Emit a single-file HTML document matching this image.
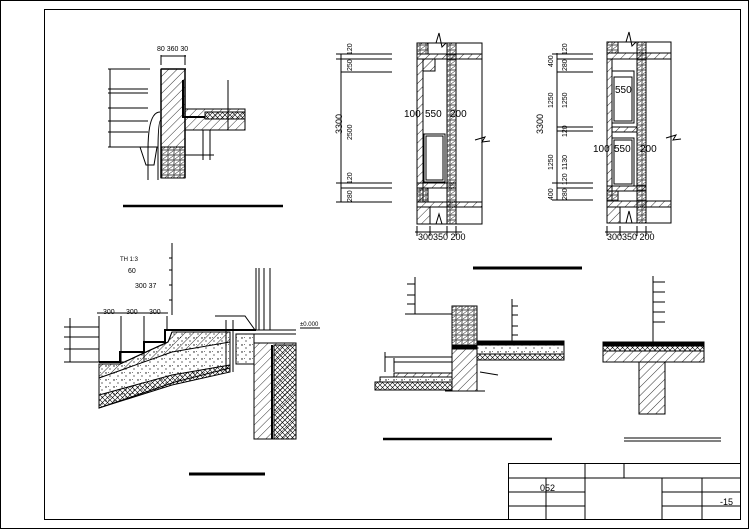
<!DOCTYPE html>
<html><head><meta charset="utf-8"><style>
html,body{margin:0;padding:0;background:#fff;}
svg{display:block;}
text{font-family:"Liberation Sans","Noto Sans CJK SC",sans-serif;fill:#000;}
</style></head><body>
<svg width="749" height="530" viewBox="0 0 749 530" xmlns="http://www.w3.org/2000/svg">
<defs>
<pattern id="h" width="6" height="6" patternUnits="userSpaceOnUse" patternTransform="rotate(45)"><line x1="0" y1="0" x2="0" y2="6" stroke="#000" stroke-width="0.8"/></pattern>
<pattern id="b" width="6" height="5" patternUnits="userSpaceOnUse"><rect x="0" y="0" width="6" height="5" fill="none" stroke="#000" stroke-width="0.7"/><line x1="1" y1="4" x2="5" y2="1" stroke="#000" stroke-width="0.5"/></pattern>
<pattern id="x" width="5" height="5" patternUnits="userSpaceOnUse"><path d="M0 0L5 5M5 0L0 5" stroke="#000" stroke-width="0.6"/></pattern>
<pattern id="d" width="8" height="7" patternUnits="userSpaceOnUse"><circle cx="2" cy="2" r="0.7"/><circle cx="6" cy="5" r="0.6"/><path d="M4 1l1 1" stroke="#000" stroke-width="0.5"/></pattern>
</defs>
<g fill="none" stroke="#000" stroke-width="1">
<rect x="0.5" y="0.5" width="748" height="528"/>
<rect x="44.5" y="9.5" width="696" height="510"/>
<!-- title block -->
<rect x="508.5" y="463.5" width="232" height="56"/>
<path d="M508 478H741M508 492H585M662 492H741M508 506H585M662 506H741M546 478V520M585 463V520M624 463V478M662 478V520M702 478V520"/>

<!-- top-left detail -->
<rect x="161" y="69" width="24" height="78" fill="url(#h)"/>
<rect x="161" y="147" width="24" height="31" fill="url(#b)"/>
<rect x="185" y="109" width="60" height="21" fill="url(#h)"/>
<rect x="205" y="112" width="40" height="7" fill="url(#x)"/>
<path d="M183 80V117H205" stroke-width="2"/>
<path d="M161 69V178M185 69V178M161 69H186" stroke-width="1.5"/>
<path d="M110 69V147M108 69H150M108 89H148M108 93H148M108 108H148M108 121H148M108 132H148M108 147H145M161 55V65M185 55V65M161 56H186"/>
<path d="M148 180V150Q148 112 160 112M158 180V152Q158 120 161 120"/>
<path d="M140 147H157L154 165H146Z"/>
<path d="M203 130V160M210 130V160M185 155H214M228 80V130"/>
<line x1="123" y1="206" x2="283" y2="206" stroke-width="2.5"/>

<!-- top middle elevations -->
<path d="M341 54V202M336 54H392M336 59H392M341 72H392M336 183H392M341 188H392M336 202H392"/>
<rect x="417" y="43" width="65" height="181"/>
<rect x="417" y="43" width="11" height="11" fill="url(#b)"/>
<rect x="447" y="43" width="9" height="181" fill="url(#b)"/>
<rect x="417" y="54" width="65" height="5" fill="url(#h)"/>
<rect x="417" y="59" width="6" height="143" fill="url(#h)"/>
<rect x="423" y="59" width="12" height="12" fill="url(#h)"/>
<rect x="424" y="134" width="21" height="48"/>
<rect x="426" y="136" width="17" height="44"/>
<rect x="417" y="183" width="39" height="5" fill="url(#h)"/>
<rect x="417" y="188" width="11" height="14" fill="url(#b)"/>
<rect x="417" y="202" width="65" height="5" fill="url(#h)"/>
<rect x="417" y="207" width="13" height="17" fill="url(#h)"/>
<path d="M436 43l3-10 3 14 4-4M436 224l3-10 3 10M475 140l10-3-3 5 8-1M417 226V236M430 226V236M447 226V236M456 226V236M415 232H462"/>
<path d="M557 53V200M552 54H593M557 59H593M557 72H593M557 127H593M557 131H593M552 183H593M557 188H593M552 200H593"/>
<rect x="607" y="42" width="64" height="181"/>
<rect x="607" y="42" width="11" height="11" fill="url(#b)"/>
<rect x="637" y="42" width="9" height="181" fill="url(#b)"/>
<rect x="607" y="53" width="64" height="6" fill="url(#h)"/>
<rect x="607" y="59" width="5" height="142" fill="url(#h)"/>
<rect x="612" y="71" width="22" height="52"/><rect x="614" y="77" width="18" height="44"/>
<rect x="612" y="127" width="25" height="5" fill="url(#h)"/>
<rect x="612" y="138" width="22" height="48"/><rect x="614" y="140" width="18" height="44"/>
<rect x="607" y="186" width="39" height="5" fill="url(#h)"/>
<rect x="607" y="191" width="11" height="10" fill="url(#b)"/>
<rect x="607" y="201" width="64" height="6" fill="url(#h)"/>
<rect x="607" y="207" width="13" height="16" fill="url(#h)"/>
<path d="M626 42l3-10 3 14 4-4M626 223l3-12 3 12M666 138l10-3-3 5 8-1M607 226V236M620 226V236M637 226V236M646 226V236M605 232H652"/>
<line x1="473" y1="268" x2="582" y2="268" stroke-width="3"/>

<!-- bottom-left detail -->
<path d="M172 243V315M169 258H172M169 270H172M169 285H172M169 300H172"/>
<path d="M99 316V362M121 316V362M144 316V362M167 316V330M97 313H168"/>
<path d="M64 362H125M64 327H99M64 337H99M64 349H99M70 318V362" />
<path d="M99 362H120V352H144V342H165V330H256" stroke-width="2"/>
<polygon points="99,364 120,364 146,352 168,342 172,332 230,332 230,368 175,382 99,408" fill="url(#d)"/>
<polygon points="99,364 120,364 146,352 168,342 172,332 230,332 230,342 172,352 99,378" fill="url(#h)"/>
<polygon points="99,395 172,375 230,365 230,372 172,385 99,408" fill="url(#x)"/>
<path d="M226 320V372M233 320V372"/>
<rect x="236" y="334" width="18" height="30" fill="url(#d)"/>
<path d="M256 268V330M259 268V330M264 268V330M270 268V330M240 330H296M240 334H296M215 316H245L255 330M300 328H320"/>
<rect x="254" y="343" width="42" height="96" fill="url(#h)"/>
<rect x="274" y="345" width="22" height="94" fill="url(#x)"/>
<line x1="272" y1="345" x2="272" y2="439" stroke-width="2"/>
<line x1="189" y1="474" x2="265" y2="474" stroke-width="3"/>

<!-- bottom-middle detail -->
<path d="M415 277V314M407 284H415M407 295H415M407 304H415M405 314H452M512 299V343M512 306H518M512 315H518M512 326H518M512 335H518"/>
<rect x="452" y="306" width="25" height="39" fill="url(#b)"/>
<rect x="452" y="345" width="25" height="4" fill="#000"/>
<rect x="452" y="349" width="25" height="42" fill="url(#h)"/>
<rect x="477" y="341" width="87" height="4" fill="#000"/>
<rect x="477" y="345" width="87" height="9" fill="url(#d)"/>
<rect x="477" y="354" width="87" height="6" fill="url(#x)"/>
<rect x="394" y="373" width="58" height="4" fill="url(#h)"/>
<rect x="380" y="377" width="72" height="5" fill="url(#d)"/>
<rect x="375" y="382" width="77" height="8" fill="url(#x)"/>
<path d="M385 357H452M394 362H452M385 352V372M394 358V372M445 391H485M480 372L498 375"/>
<line x1="383" y1="439" x2="552" y2="439" stroke-width="2.5"/>

<!-- bottom-right detail -->
<path d="M653 276V342M653 282H665M653 292H665M653 302H665M653 312H665M653 322H665"/>
<rect x="603" y="342" width="101" height="4" fill="#000"/>
<rect x="603" y="346" width="101" height="5" fill="url(#x)"/>
<rect x="603" y="351" width="101" height="11" fill="url(#h)"/>
<rect x="639" y="362" width="26" height="52" fill="url(#h)"/>
<path d="M624 438H721M624 441H721"/>
</g>
<g font-size="7">
<text x="157" y="51">80 360 30</text>
<text x="404" y="117" font-size="10">100</text><text x="425" y="117" font-size="10">550</text><text x="450" y="117" font-size="10">200</text>
<text x="418" y="240" font-size="9">300350 200</text>
<text x="593" y="152" font-size="10">100</text><text x="614" y="152" font-size="10">550</text><text x="640" y="152" font-size="10">200</text>
<text x="615" y="93" font-size="10">550</text>
<text x="607" y="240" font-size="9">300350 200</text>
<text transform="translate(342,134) rotate(-90)" font-size="9">3300</text>
<text transform="translate(352,140) rotate(-90)">2500</text>
<text transform="translate(352,55) rotate(-90)">120</text>
<text transform="translate(352,71) rotate(-90)">250</text>
<text transform="translate(352,184) rotate(-90)">120</text>
<text transform="translate(352,202) rotate(-90)">280</text>
<text transform="translate(543,134) rotate(-90)" font-size="9">3300</text>
<text transform="translate(553,67) rotate(-90)">400</text>
<text transform="translate(553,108) rotate(-90)">1250</text>
<text transform="translate(553,170) rotate(-90)">1250</text>
<text transform="translate(553,200) rotate(-90)">400</text>
<text transform="translate(567,55) rotate(-90)">120</text>
<text transform="translate(567,71) rotate(-90)">280</text>
<text transform="translate(567,108) rotate(-90)">1250</text>
<text transform="translate(567,137) rotate(-90)">120</text>
<text transform="translate(567,170) rotate(-90)">1130</text>
<text transform="translate(567,185) rotate(-90)">120</text>
<text transform="translate(567,200) rotate(-90)">280</text>
<text x="120" y="261" font-size="6">TH 1:3</text>
<text x="128" y="273">60</text>
<text x="135" y="288">300  37</text>
<text x="103" y="314">300</text><text x="126" y="314">300</text><text x="149" y="314">300</text>
<text x="300" y="326" font-size="6">±0.000</text>
<text x="540" y="491" font-size="9">052</text>
<text x="720" y="505" font-size="9">-15</text>
</g>
</svg>
</body></html>
